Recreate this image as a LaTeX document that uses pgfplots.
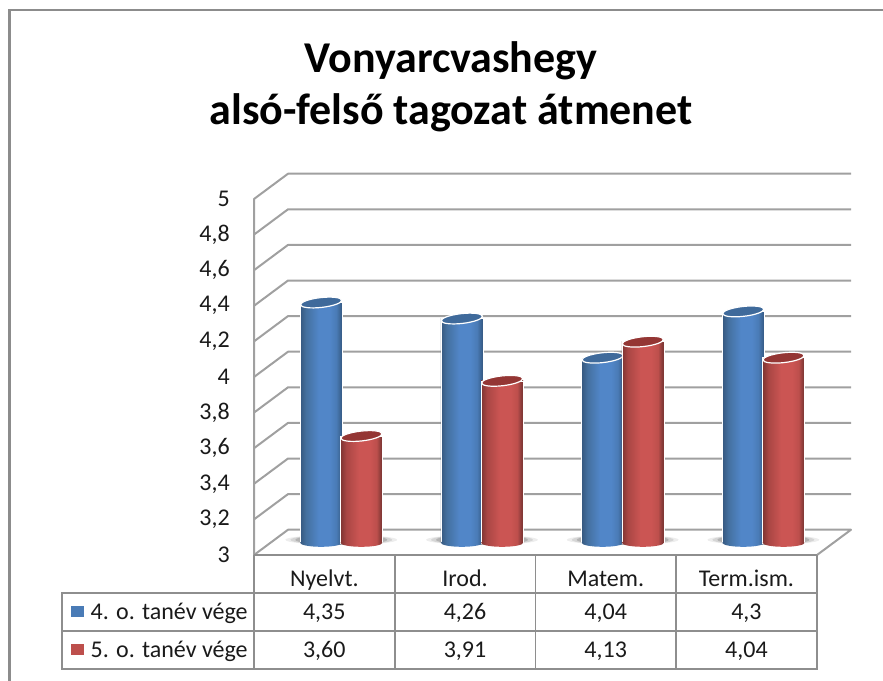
\documentclass[border=0pt]{standalone}
\usepackage{pgfplots}
\pgfplotsset{compat=1.18}
\usepackage{fontspec}
\setmainfont{Carlito}
\definecolor{frameg}{HTML}{8C8C8C}
\definecolor{gridg}{HTML}{A0A0A0}
\definecolor{tblg}{HTML}{8E8E8E}
\definecolor{ink}{HTML}{1A1A1A}
\definecolor{capb}{HTML}{3F6A9B}
\definecolor{capr}{HTML}{943634}
\definecolor{b0}{HTML}{36587F}\definecolor{b1}{HTML}{44709F}\definecolor{b2}{HTML}{5186C8}\definecolor{b3}{HTML}{4A7BB6}\definecolor{b4}{HTML}{3A6290}
\definecolor{r0}{HTML}{7F3533}\definecolor{r1}{HTML}{A94644}\definecolor{r2}{HTML}{CB5553}\definecolor{r3}{HTML}{BD4F4C}\definecolor{r4}{HTML}{853A38}
\pgfdeclarehorizontalshading{cylblue}{100bp}{
  color(0bp)=(b0); color(25bp)=(b0); color(32bp)=(b1); color(47bp)=(b2); color(60bp)=(b2);
  color(68bp)=(b3); color(73bp)=(b4); color(75bp)=(b0); color(100bp)=(b0)}
\pgfdeclarehorizontalshading{cylred}{100bp}{
  color(0bp)=(r0); color(25bp)=(r0); color(32bp)=(r1); color(47bp)=(r2); color(60bp)=(r2);
  color(68bp)=(r3); color(73bp)=(r4); color(75bp)=(r0); color(100bp)=(r0)}
\pgfdeclareplotmark{cap}{%
  \pgfpathellipse{\pgfpointorigin}{\pgfqpoint{20.6pt}{2.3pt}}{\pgfqpoint{-0.5pt}{4.9pt}}%
  \pgfusepathqfillstroke}
\pgfdeclareplotmark{baseblue}{%
  \shade[shading=cylblue,draw=none] (0pt,0pt) ellipse [x radius=21pt, y radius=4pt];}
\pgfdeclareplotmark{basered}{%
  \shade[shading=cylred,draw=none] (0pt,0pt) ellipse [x radius=21pt, y radius=4pt];}
\pgfdeclareplotmark{floorshadow}{%
  \fill[black,opacity=.07,draw=none] (0pt,3pt) ellipse [x radius=56pt, y radius=5pt];
  \fill[black,opacity=.10,draw=none] (0pt,3pt) ellipse [x radius=51pt, y radius=5pt];
  \fill[black,opacity=.16,draw=none] (0pt,3pt) ellipse [x radius=46pt, y radius=5pt];}
\pgfplotsset{
  wallline/.style={draw=gridg,no marks,line width=2pt,line join=round},
  cylaxis/.style={at={(254pt,-542.8pt)},anchor=south west,
    scale only axis,width=563pt,height=356pt,
    xmin=-0.6205,xmax=3.381,ymin=3,ymax=5,clip=false,hide axis},
  cylb/.style={ybar,bar width=42pt,bar shift=-20.15pt,draw=white,line width=.6pt,shading=cylblue,forget plot},
  cylr/.style={ybar,bar width=42pt,bar shift=20.15pt,draw=white,line width=.6pt,shading=cylred,forget plot},
}
\begin{document}
\begin{tikzpicture}
\useasboundingbox (0pt,0pt) rectangle (883pt,-680pt);
\clip (0pt,0pt) rectangle (883pt,-680pt);
% outer frame
\draw[frameg,line width=2.4pt] (9.5pt,-681pt) -- (9.5pt,-10pt) -- (884pt,-10pt);

% walls, floor, front scale
\begin{axis}[
  at={(254pt,-555pt)},anchor=south west,
  scale only axis,width=563pt,height=356pt,
  xmin=0,xmax=563,ymin=3,ymax=5,clip=false,
  axis line style={draw=none},
  xtick=\empty,
  ytick={3,3.2,3.4,3.6,3.8,4,4.2,4.4,4.6,4.8,5},
  yticklabels={3,{3,2},{3,4},{3,6},{3,8},4,{4,2},{4,4},{4,6},{4,8},5},
  major tick length=0pt,
  ytick style={draw=none},
  yticklabel style={font=\fontsize{24}{24}\selectfont,text=ink,anchor=east,inner sep=0pt,xshift=-24pt},
]
\addplot[wallline] coordinates {(0,3.2)(34,3.342)(597,3.342)};
\addplot[wallline] coordinates {(0,3.4)(34,3.542)(597,3.542)};
\addplot[wallline] coordinates {(0,3.6)(34,3.742)(597,3.742)};
\addplot[wallline] coordinates {(0,3.8)(34,3.942)(597,3.942)};
\addplot[wallline] coordinates {(0,4.0)(34,4.142)(597,4.142)};
\addplot[wallline] coordinates {(0,4.2)(34,4.342)(597,4.342)};
\addplot[wallline] coordinates {(0,4.4)(34,4.542)(597,4.542)};
\addplot[wallline] coordinates {(0,4.6)(34,4.742)(597,4.742)};
\addplot[wallline] coordinates {(0,4.8)(34,4.942)(597,4.942)};
\addplot[wallline] coordinates {(0,3)(0,5)(34,5.142)(597,5.142)};
\addplot[wallline] coordinates {(0,3)(34,3.142)(597,3.142)(563,3)};
\end{axis}

% floor shadows
\begin{axis}[cylaxis]
\addplot[only marks,mark=floorshadow,forget plot] coordinates {(0,3)(1,3)(2,3)(3,3)};
\end{axis}
% blue cylinders
\begin{axis}[cylaxis]
\addplot[cylb] coordinates {(0,4.35)};
\addplot[cylb] coordinates {(1,4.26)};
\addplot[cylb] coordinates {(2,4.04)};
\addplot[cylb] coordinates {(3,4.30)};
\end{axis}
\begin{axis}[cylaxis]
\addplot[only marks,mark=baseblue,mark options={xshift=-20.15pt},forget plot]
  coordinates {(0,3)(1,3)(2,3)(3,3)};
\addplot[only marks,mark=cap,mark options={xshift=-20.15pt,fill=capb,draw=white,line width=1.2pt},forget plot]
  coordinates {(0,4.35)(1,4.26)(2,4.04)(3,4.30)};
\end{axis}
% red cylinders
\begin{axis}[cylaxis]
\addplot[cylr] coordinates {(0,3.60)};
\addplot[cylr] coordinates {(1,3.91)};
\addplot[cylr] coordinates {(2,4.13)};
\addplot[cylr] coordinates {(3,4.04)};
\end{axis}
\begin{axis}[cylaxis]
\addplot[only marks,mark=basered,mark options={xshift=20.15pt},forget plot]
  coordinates {(0,3)(1,3)(2,3)(3,3)};
\addplot[only marks,mark=cap,mark options={xshift=20.15pt,fill=capr,draw=white,line width=1.2pt},forget plot]
  coordinates {(0,3.60)(1,3.91)(2,4.13)(3,4.04)};
\end{axis}

\begin{scope}[x=1pt,y=-1pt,tbl/.style={draw=tblg,line width=1.8pt}]
% data table
\draw[tbl] (254,555) -- (817,555);
\draw[tbl] (62,592.7) -- (817,592.7);
\draw[tbl] (62,630.7) -- (817,630.7);
\draw[tbl] (62,669) -- (817,669);
\draw[tbl] (62,592) -- (62,669.7);
\foreach \x in {254,394.7,535.4,676,816.8} \draw[tbl] (\x,555) -- (\x,669.7);
\fill[b3] (71,605.7) rectangle (83.5,616.7);
\fill[r3] (71,643.6) rectangle (83.5,654.6);
\begin{scope}[every node/.style={font=\fontsize{24}{24}\selectfont,text=ink,inner sep=0pt}]
\node[anchor=base west] at (90.5,619) {4. o. tanév vége};
\node[anchor=base west] at (90.5,657) {5. o. tanév vége};
\node[anchor=base] at (324.3,586) {Nyelvt.};
\node[anchor=base] at (465,586) {Irod.};
\node[anchor=base] at (605.7,586) {Matem.};
\node[anchor=base] at (746.4,586) {Term.ism.};
\node[anchor=base] at (324.3,619) {4,35};
\node[anchor=base] at (465,619) {4,26};
\node[anchor=base] at (605.7,619) {4,04};
\node[anchor=base] at (746.4,619) {4,3};
\node[anchor=base] at (324.3,657) {3,60};
\node[anchor=base] at (465,657) {3,91};
\node[anchor=base] at (605.7,657) {4,13};
\node[anchor=base] at (746.4,657) {4,04};
\end{scope}
% title
\node[anchor=base,font=\fontsize{44}{44}\selectfont\bfseries,text=black,inner sep=0pt] at (451,72) {Vonyarcvashegy};
\node[anchor=base,font=\fontsize{44}{44}\selectfont\bfseries,text=black,inner sep=0pt] at (451,124) {alsó-felső tagozat átmenet};
\end{scope}
\end{tikzpicture}
\end{document}
